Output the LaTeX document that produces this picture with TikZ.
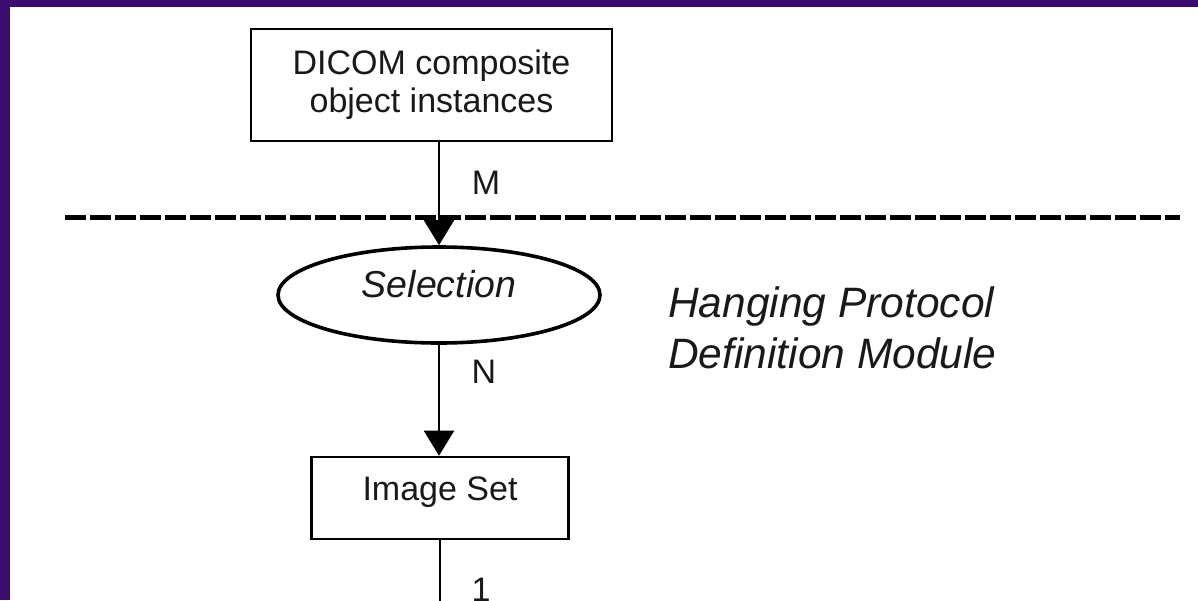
\documentclass[tikz,border=0pt]{standalone}
\usepackage{fontspec}
\setmainfont{Liberation Sans}
\usetikzlibrary{arrows.meta,shapes.geometric}
\definecolor{frame}{RGB}{62,12,112}
\definecolor{ink}{RGB}{25,25,25}
\begin{document}
\begin{tikzpicture}[x=1pt,y=-1pt,
  lbl/.style={font=\fontsize{34}{38}\selectfont, text=ink, inner sep=0pt},
  entity/.style={draw=black, line width=2.6pt, rectangle, align=center,
    font=\fontsize{34}{38}\selectfont, text=ink},
  process/.style={draw=black, line width=3.6pt, ellipse, inner sep=0pt,
    font=\fontsize{37.5}{40}\selectfont\itshape, text=ink},
  flow/.style={draw=black, line width=2.2pt,
    -{Triangle[width=30pt,length=25pt]}},
  plain/.style={draw=black, line width=2.2pt},
  divider/.style={draw=black, line width=5pt, dash pattern=on 21pt off 4pt},
  modname/.style={font=\fontsize{42.5}{51}\selectfont\itshape, text=ink,
    inner sep=0pt, anchor=base west}]
  % purple frame and white page
  \fill[frame] (0,0) rectangle (1198,600);
  \fill[white] (10,7) rectangle (1198,600);
  \useasboundingbox (0,0) rectangle (1198,600);

  % nodes
  \node[entity, minimum width=361pt, minimum height=112pt, inner sep=0pt,
        text height=64pt, text depth=9pt] (dicom) at (431.5,85)
        {DICOM composite\\object instances};
  \node[process, minimum width=322pt, minimum height=96pt,
        text height=22pt, text depth=18pt] (sel) at (439,295) {Selection};
  \node[entity, minimum width=257pt, minimum height=82pt, inner sep=0pt,
        text height=24pt, text depth=20pt] (img) at (440,498) {Image Set};

  % module boundary
  \coordinate (dl) at (65,217);
  \coordinate (dr) at (1180,217);
  \draw[divider] (dl) -- (dr);

  % connectors
  \draw[flow] (sel.north |- dicom.south) -- (sel.north);
  \draw[flow] (sel.south) -- (sel.south |- img.north);
  \coordinate (cut) at (440,601);
  \draw[plain] (img.south) -- (img.south |- cut);

  % cardinalities
  \node[lbl] (m) at (486,183) {M};
  \node[lbl] (n) at (484,372) {N};
  \node[lbl, anchor=base] (one) at (481,601) {1};

  % module title
  \node[modname] (t1) at (668,317) {Hanging Protocol};
  \node[modname] (t2) at (668,368) {Definition Module};
\end{tikzpicture}
\end{document}
